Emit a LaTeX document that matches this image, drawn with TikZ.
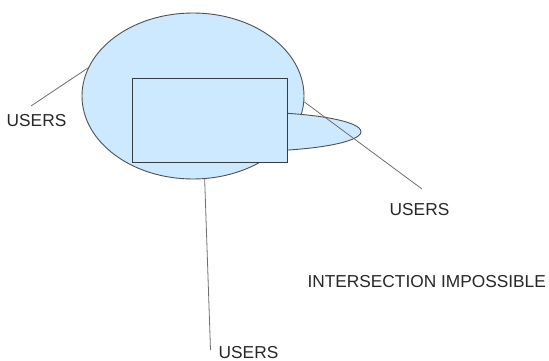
\documentclass[tikz,border=0pt]{standalone}
\usepackage{fontspec}
\setmainfont{Liberation Sans}
\usetikzlibrary{shapes.geometric}
\definecolor{setfill}{RGB}{204,233,255}
\definecolor{setedge}{RGB}{80,80,80}
\definecolor{boxedge}{RGB}{55,60,65}
\definecolor{leader}{RGB}{110,110,110}
\tikzset{
  setshape/.style={ellipse, draw=setedge, fill=setfill, line width=0.9pt, inner sep=0pt},
  boxshape/.style={rectangle, draw=boxedge, fill=setfill, line width=1pt, inner sep=0pt},
  caption/.style={inner sep=0pt, font=\fontsize{17.3}{20}\selectfont, text=black!85},
  leaderline/.style={draw=leader, line width=0.8pt}
}
\begin{document}
\begin{tikzpicture}[x=1pt, y=-1pt]
  \useasboundingbox (0,0) rectangle (549,361);
  % the large set, its small tail, and the box on top
  \node[setshape, minimum width=222pt, minimum height=166pt] (big) at (193,96) {};
  \node[setshape, minimum width=222pt, minimum height=39pt] (tail) at (250,131.7) {};
  \node[boxshape, minimum width=155.5pt, minimum height=83.5pt] (box) at (209.75,120.25) {};
  % captions
  \node[caption] (uleft) at (36.5,121) {USERS};
  \node[caption] (uright) at (419.5,209.5) {USERS};
  \node[caption] (ubottom) at (248.5,352.5) {USERS};
  \node[caption] (note) at (426.7,281.7) {INTERSECTION IMPOSSIBLE};
  % free ends of the leader lines
  \coordinate (eleft) at (31,106);
  \coordinate (eright) at (422,189);
  \coordinate (ebottom) at (210.5,350);
  % leader lines
  \draw[leaderline] (big.165.3) -- (eleft);
  \draw[leaderline] (big.-3.1) -- (eright);
  \draw[leaderline] (big.-82.5) -- (ebottom);
\end{tikzpicture}
\end{document}
